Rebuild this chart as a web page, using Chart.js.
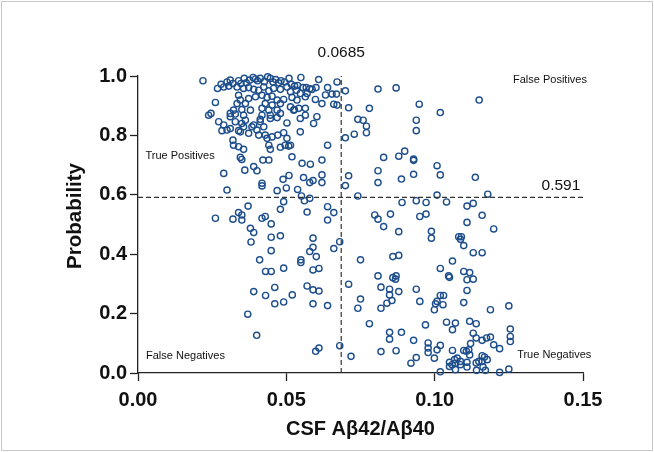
<!DOCTYPE html>
<html><head><meta charset="utf-8">
<script src="https://cdn.jsdelivr.net/npm/chart.js@4/dist/chart.umd.min.js"></script>
<style>html,body{margin:0;padding:0;background:#fff}#wrap{width:654px;height:452px;position:relative}</style>
</head><body><div id="wrap"><canvas id="c" width="654" height="452"></canvas></div>
<script>
const xTickValues = [0, 0.05, 0.10, 0.15];
const xTickLabels = ['0.00', '0.05', '0.10', '0.15'];
const yTickValues = [0, 0.2, 0.4, 0.6, 0.8, 1.0];
const yTickLabels = ['0.0', '0.2', '0.4', '0.6', '0.8', '1.0'];
const cutoffX = 0.0685;
const cutoffY = 0.591;
const quadrantNames = ['True Positives', 'False Positives', 'False Negatives', 'True Negatives'];

// [CSF Aβ42/Aβ40, probability]
const truePositives = [
[0.0219,0.984],[0.0280,0.972],[0.0300,0.980],[0.0311,0.986],[0.0320,0.975],[0.0339,0.984],[0.0347,0.975],[0.0358,0.992],[0.0365,0.977],[0.0376,0.986],[0.0388,0.995],[0.0396,0.990],[0.0403,0.984],[0.0412,0.992],[0.0426,0.981],[0.0437,0.997],[0.0446,0.992],[0.0455,0.980],[0.0464,0.988],[0.0474,0.977],[0.0482,0.984],[0.0494,0.980],[0.0509,0.992],[0.0517,0.972],[0.0528,0.966],[0.0538,0.968],[0.0549,0.995],[0.0556,0.961],[0.0567,0.961],[0.0579,0.957],[0.0609,0.988],[0.0600,0.961],[0.0671,0.980],
[0.0268,0.958],[0.0289,0.963],[0.0306,0.966],[0.0334,0.963],[0.0356,0.958],[0.0373,0.961],[0.0390,0.955],[0.0407,0.952],[0.0424,0.963],[0.0441,0.950],[0.0457,0.958],[0.0480,0.955],[0.0502,0.963],[0.0514,0.947],[0.0534,0.952],[0.0547,0.941],[0.0570,0.941],[0.0587,0.955],[0.0632,0.936],[0.0639,0.961],[0.0654,0.939],[0.0669,0.939],
[0.0261,0.911],[0.0339,0.935],[0.0345,0.919],[0.0373,0.924],[0.0396,0.930],[0.0418,0.935],[0.0435,0.928],[0.0452,0.932],[0.0469,0.919],[0.0491,0.921],[0.0519,0.928],[0.0536,0.919],[0.0564,0.930],[0.0598,0.921],[0.0620,0.907],[0.0660,0.905],[0.0671,0.902],[0.0334,0.907],[0.0362,0.907],[0.0429,0.907],[0.0452,0.902],[0.0480,0.907],[0.0514,0.896],[0.0527,0.887],
[0.0322,0.885],[0.0350,0.887],[0.0379,0.885],[0.0418,0.891],[0.0441,0.885],[0.0469,0.885],[0.0542,0.891],[0.0564,0.891],[0.0246,0.874],[0.0238,0.868],[0.0311,0.874],[0.0328,0.872],[0.0356,0.868],[0.0418,0.868],[0.0446,0.868],[0.0480,0.874],[0.0525,0.885],[0.0547,0.857],[0.0564,0.868],
[0.0311,0.863],[0.0362,0.851],[0.0412,0.854],[0.0446,0.857],[0.0469,0.860],[0.0272,0.846],[0.0289,0.835],[0.0328,0.846],[0.0390,0.835],[0.0412,0.846],[0.0502,0.842],[0.0592,0.840],[0.0603,0.863],[0.0424,0.829],[0.0350,0.840],
[0.0283,0.816],[0.0300,0.818],[0.0311,0.823],[0.0339,0.816],[0.0356,0.829],[0.0384,0.829],[0.0401,0.818],[0.0407,0.801],[0.0429,0.801],[0.0435,0.790],[0.0452,0.795],[0.0471,0.801],[0.0491,0.809],[0.0502,0.790],[0.0547,0.812],[0.0320,0.784],[0.0345,0.812],[0.0373,0.807],
[0.0322,0.767],[0.0339,0.762],[0.0356,0.753],[0.0441,0.767],[0.0446,0.753],[0.0496,0.767],[0.0508,0.764],[0.0514,0.767],[0.0639,0.767],[0.0480,0.760],
[0.0345,0.726],[0.0350,0.719],[0.0421,0.717],[0.0441,0.717],[0.0519,0.728],[0.0553,0.706],[0.0581,0.703],[0.0620,0.717],
[0.0390,0.695],[0.0401,0.681],[0.0289,0.672],[0.0360,0.683],[0.0418,0.639],[0.0418,0.630],[0.0300,0.616],[0.0489,0.652],[0.0509,0.665],[0.0469,0.614],[0.0500,0.623],[0.0558,0.658],[0.0579,0.641],[0.0590,0.648],[0.0620,0.667],[0.0620,0.641],[0.0538,0.618],[0.0551,0.596]
];
const falsePositives = [
[0.0699,0.950],[0.0699,0.792],[0.0809,0.956],[0.0870,0.960],[0.0710,0.893],[0.0780,0.891],[0.0948,0.905],[0.1019,0.877],[0.1150,0.919],[0.0741,0.854],[0.0759,0.851],[0.0770,0.831],[0.0938,0.851],[0.0938,0.816],[0.0729,0.804],[0.0770,0.809],[0.0828,0.726],[0.0879,0.730],[0.0899,0.747],[0.0929,0.720],[0.0929,0.716],[0.0809,0.681],[0.0710,0.664],[0.0888,0.653],[0.0929,0.669],[0.1008,0.698],[0.1019,0.667],[0.1137,0.659],[0.0699,0.631],[0.0809,0.641],[0.0741,0.596],[0.1008,0.599],[0.1179,0.602]
];
const falseNegatives = [
[0.0561,0.580],[0.0579,0.588],[0.0491,0.577],[0.0480,0.551],[0.0371,0.562],[0.0339,0.540],[0.0350,0.532],[0.0350,0.515],[0.0320,0.518],[0.0261,0.521],[0.0418,0.521],[0.0429,0.527],[0.0449,0.502],[0.0379,0.487],[0.0390,0.473],[0.0449,0.457],[0.0480,0.462],[0.0381,0.441],[0.0570,0.542],[0.0639,0.560],[0.0660,0.540],[0.0639,0.515],[0.0590,0.454],[0.0680,0.442],[0.0590,0.423],[0.0579,0.409],[0.0601,0.392],[0.0660,0.419],[0.0449,0.412],[0.0410,0.381],[0.0549,0.381],[0.0549,0.372],[0.0491,0.353],[0.0430,0.342],[0.0449,0.342],[0.0590,0.347],[0.0610,0.352],
[0.0390,0.274],[0.0430,0.261],[0.0461,0.288],[0.0461,0.233],[0.0491,0.239],[0.0520,0.263],[0.0570,0.293],[0.0590,0.280],[0.0610,0.276],[0.0590,0.233],[0.0639,0.227],[0.0370,0.198],[0.0400,0.127],[0.0599,0.073],[0.0610,0.084],[0.0680,0.092]
];
const trueNegatives = [
[0.0890,0.574],[0.0938,0.580],[0.0971,0.574],[0.1040,0.576],[0.1109,0.562],[0.1130,0.571],[0.0798,0.532],[0.0809,0.518],[0.0851,0.535],[0.0950,0.527],[0.0971,0.535],[0.1160,0.531],[0.0828,0.493],[0.0879,0.476],[0.0989,0.477],[0.0989,0.454],[0.1109,0.507],[0.1199,0.485],[0.1081,0.459],[0.1090,0.459],[0.1087,0.450],[0.1098,0.429],[0.0750,0.381],[0.0859,0.392],[0.0879,0.396],[0.1130,0.405],[0.1160,0.405],[0.1060,0.377],[0.1019,0.352],[0.1098,0.342],[0.1118,0.338],[0.0809,0.327],[0.0859,0.321],[0.0870,0.327],[0.0868,0.316],[0.1047,0.327],[0.1050,0.322],[0.1109,0.314],[0.1130,0.316],[0.0710,0.299],
[0.0819,0.289],[0.0848,0.282],[0.0848,0.263],[0.0879,0.274],[0.0938,0.282],[0.1109,0.278],[0.1019,0.261],[0.1030,0.261],[0.1008,0.241],[0.1003,0.233],[0.0999,0.213],[0.1028,0.230],[0.0750,0.249],[0.0741,0.218],[0.0839,0.235],[0.0856,0.244],[0.0819,0.218],[0.0950,0.241],[0.1098,0.237],[0.1188,0.213],[0.1250,0.226],[0.0780,0.166],[0.0969,0.162],[0.1040,0.171],[0.1070,0.168],[0.1060,0.146],[0.1118,0.174],[0.1140,0.166],[0.0848,0.137],[0.0848,0.114],[0.0888,0.137],[0.0929,0.110],[0.0978,0.101],[0.0978,0.084],[0.0978,0.069],[0.1019,0.093],[0.1008,0.078],[0.1130,0.134],[0.1140,0.118],[0.1121,0.099],[0.1160,0.110],[0.1175,0.118],[0.1188,0.121],[0.1199,0.095],[0.1219,0.082],[0.1255,0.148],[0.1255,0.123],[0.1255,0.106],[0.0819,0.072],[0.0870,0.075],[0.0718,0.056],[0.0920,0.033],[0.0938,0.052],[0.0999,0.050],[0.1060,0.076],[0.1098,0.076],[0.1107,0.073],[0.1115,0.078],[0.1118,0.061],[0.1076,0.050],[0.1067,0.045],[0.1070,0.033],[0.1050,0.036],[0.1050,0.022],[0.1059,0.028],[0.1087,0.039],[0.1087,0.028],[0.1109,0.036],[0.1109,0.020],[0.1140,0.034],[0.1149,0.039],[0.1160,0.058],[0.1168,0.054],[0.1177,0.045],[0.1160,0.039],[0.1163,0.020],[0.1070,0.011],[0.1019,0.004],[0.1141,0.009],[0.1171,0.009],[0.1219,0.002],[0.1250,0.013]
];

const FONT = '"Liberation Sans", Arial, Helvetica, sans-serif';
const INK = '#111';
const AXIS = '#222';
const POINT = '#1d4e8c';

const toXY = arr => arr.map(p => ({x: p[0], y: p[1]}));
const pointSet = (label, arr) => ({
  label, data: toXY(arr), pointRadius: 3.1, pointHoverRadius: 3.1, pointBorderWidth: 1.4,
  pointBorderColor: POINT, pointBackgroundColor: 'rgba(255,255,255,0)', borderColor: POINT, showLine: false, clip: false
});
const dashSet = (label, data) => ({
  label, data, showLine: true, borderColor: '#333', borderWidth: 1.2, borderDash: [5, 3],
  pointRadius: 0, fill: false, clip: false
});

const textPlugin = {
  id: 'cornerTexts',
  afterDatasetsDraw(chart, args, opts) {
    const {ctx, scales: {x, y}} = chart;
    ctx.save();
    ctx.fillStyle = INK;
    ctx.textBaseline = 'middle';
    for (const t of opts.items) {
      ctx.font = `${t.size}px ${FONT}`;
      ctx.textAlign = t.align;
      ctx.fillText(t.text, x.getPixelForValue(t.x), y.getPixelForValue(t.y));
    }
    ctx.restore();
  },
  afterDraw(chart) {
    const {ctx} = chart;
    ctx.save();
    ctx.strokeStyle = '#c9c9c9';
    ctx.lineWidth = 1;
    ctx.strokeRect(1.5, 1.5, chart.width - 3, chart.height - 3);
    ctx.restore();
  }
};

new Chart(document.getElementById('c'), {
  type: 'scatter',
  data: {
    datasets: [
      dashSet('cutoffX', [{x: cutoffX, y: 0}, {x: cutoffX, y: 1}]),
      dashSet('cutoffY', [{x: 0, y: cutoffY}, {x: 0.15, y: cutoffY}]),
      pointSet(quadrantNames[0], truePositives),
      pointSet(quadrantNames[1], falsePositives),
      pointSet(quadrantNames[2], falseNegatives),
      pointSet(quadrantNames[3], trueNegatives)
    ]
  },
  options: {
    responsive: false, animation: false, devicePixelRatio: 1,
    layout: {padding: {left: 0, top: 76, right: 71, bottom: 0}},
    plugins: {
      legend: {display: false}, tooltip: {enabled: false},
      cornerTexts: {items: [
        {text: cutoffX.toString(), x: cutoffX, y: 1.08, align: 'center', size: 15.5},
        {text: cutoffY.toString(), x: 0.1491, y: 0.63, align: 'right', size: 15.5},
        {text: quadrantNames[0], x: 0.0025, y: 0.730, align: 'left', size: 11},
        {text: quadrantNames[1], x: 0.1264, y: 0.986, align: 'left', size: 11},
        {text: quadrantNames[2], x: 0.0027, y: 0.058, align: 'left', size: 11},
        {text: quadrantNames[3], x: 0.1278, y: 0.0615, align: 'left', size: 11}
      ]}
    },
    scales: {
      x: {
        type: 'linear', min: 0, max: 0.15,
        afterBuildTicks: s => { s.ticks = xTickValues.map(v => ({value: v})); },
        afterFit: s => { s.height = 79; },
        ticks: {callback: (v, i) => xTickLabels[i], autoSkip: false, maxRotation: 0,
          font: {family: FONT, size: 20, weight: 'bold'}, color: INK, padding: 7},
        grid: {drawOnChartArea: false, drawTicks: true, tickLength: 8, tickColor: AXIS, tickWidth: 1.3},
        border: {display: true, color: AXIS, width: 1.3},
        title: {display: true, text: 'CSF Aβ42/Aβ40', color: INK,
          font: {family: FONT, size: 20, weight: 'bold'}, padding: {top: 0, bottom: 11}}
      },
      y: {
        type: 'linear', min: 0, max: 1,
        afterBuildTicks: s => { s.ticks = yTickValues.map(v => ({value: v})); },
        afterFit: s => { s.width = 138; },
        ticks: {callback: (v, i) => yTickLabels[i], autoSkip: false,
          font: {family: FONT, size: 20, weight: 'bold'}, color: INK, padding: 3},
        grid: {drawOnChartArea: false, drawTicks: true, tickLength: 8, tickColor: AXIS, tickWidth: 1.3},
        border: {display: true, color: AXIS, width: 1.3},
        title: {display: true, text: '   Probability', color: INK,
          font: {family: FONT, size: 20.5, weight: 'bold'}, padding: {top: 63, bottom: 0}}
      }
    }
  },
  plugins: [textPlugin]
});
</script></body></html>
